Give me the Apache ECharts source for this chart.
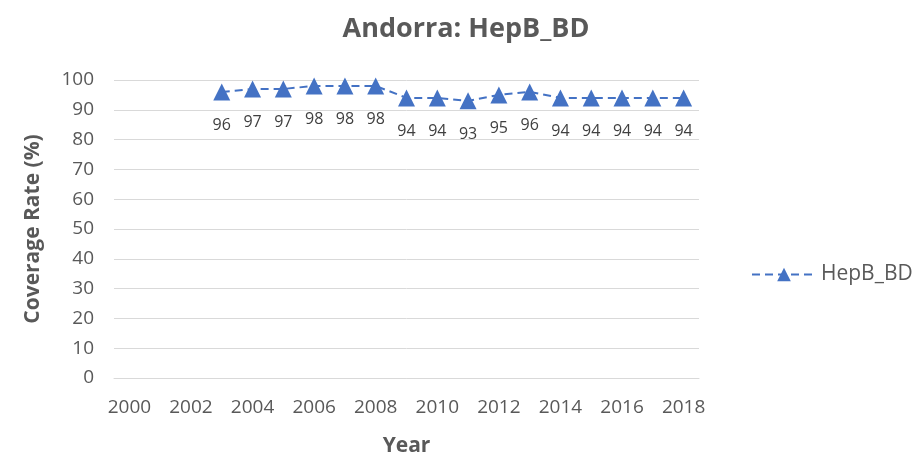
<!DOCTYPE html>
<html><head><meta charset="utf-8">
<script src="https://cdn.jsdelivr.net/npm/echarts@6/dist/echarts.min.js"></script>
<style>html,body{margin:0;padding:0;background:#fff}#c{width:917px;height:462px}</style>
</head><body><div id="c"></div>
<script>
const years = ['2000','2001','2002','2003','2004','2005','2006','2007','2008','2009','2010','2011','2012','2013','2014','2015','2016','2017','2018'];
const hepB = [null,null,null,96,97,97,98,98,98,94,94,93,95,96,94,94,94,94,94];
const seriesName = 'HepB_BD';
const titleText = 'Andorra: HepB_BD';
const FONT = '"Open Sans", sans-serif';
const chart = echarts.init(document.getElementById('c'));
chart.setOption({
  animation: false,
  textStyle: {fontFamily: FONT},
  title: {text: titleText, left: 461, textAlign: 'center', top: 11,
    textStyle: {fontFamily: FONT, fontSize: 27, fontWeight: 'bold', color: '#595959'}},
  legend: {left: 746, top: 259, itemWidth: 64, itemHeight: 17, itemGap: 12,
    textStyle: {fontFamily: FONT, fontSize: 21, color: '#595959'},
    data: [seriesName]},
  grid: {left: 114, right: 218, top: 80, bottom: 84, containLabel: false, outerBoundsMode: 'none'},
  xAxis: {type: 'category', data: years, boundaryGap: true,
    name: 'Year', nameLocation: 'middle', nameGap: 58,
    nameTextStyle: {fontFamily: FONT, fontSize: 21, fontWeight: 'bold', color: '#595959'},
    axisLine: {lineStyle: {color: '#d9d9d9'}}, axisTick: {show: false},
    axisLabel: {interval: 1, fontSize: 19, color: '#595959', margin: 20}},
  yAxis: {type: 'value', min: 0, max: 100, interval: 10,
    name: 'Coverage Rate (%)', nameLocation: 'middle', nameGap: 70,
    nameTextStyle: {fontFamily: FONT, fontSize: 21, fontWeight: 'bold', color: '#595959'},
    axisLine: {show: false}, axisTick: {show: false},
    splitLine: {lineStyle: {color: '#d9d9d9'}},
    axisLabel: {fontSize: 19, color: '#595959', margin: 20}},
  series: [{name: seriesName, type: 'line', data: hepB,
    symbol: 'triangle', symbolSize: 17,
    itemStyle: {color: '#4472C4'},
    lineStyle: {color: '#4472C4', width: 2, type: [8, 5]},
    label: {show: true, position: 'bottom', distance: 17, fontSize: 16, color: '#404040'}}]
});
</script></body></html>
